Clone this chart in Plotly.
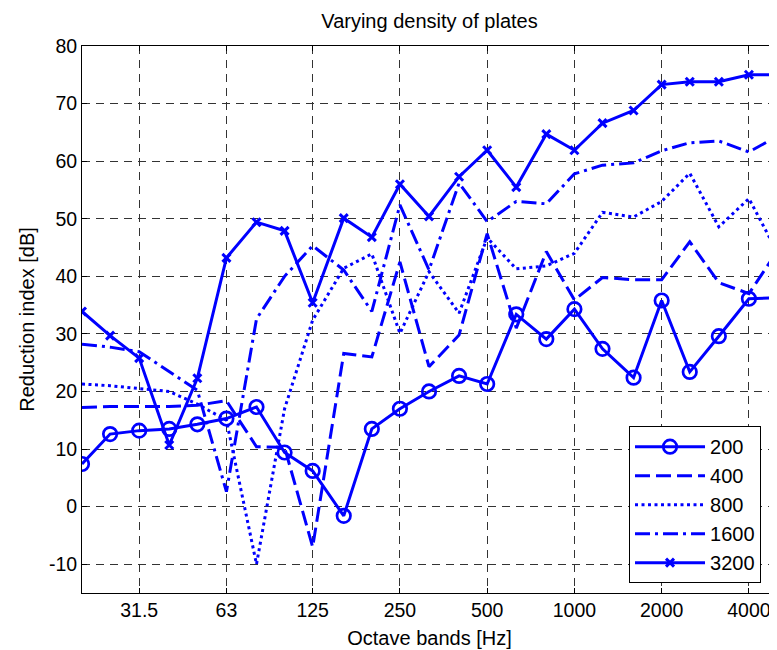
import math
import plotly.graph_objects as go

# Third-octave band centre frequencies [Hz]
freqs = [20, 25, 31.5, 40, 50, 63, 80, 100, 125, 160, 200, 250, 315, 400,
         500, 630, 800, 1000, 1250, 1600, 2000, 2500, 3150, 4000, 5000]

tick_freqs = [31.5, 63, 125, 250, 500, 1000, 2000, 4000]
tick_labels = ["31.5", "63", "125", "250", "500", "1000", "2000", "4000"]
y_ticks = [-10, 0, 10, 20, 30, 40, 50, 60, 70, 80]
y_tick_labels = ["-10", "0", "10", "20", "30", "40", "50", "60", "70", "80"]

series_names = ["200", "400", "800", "1600", "3200"]

r200 = [7.4, 12.6, 13.2, 13.5, 14.3, 15.3, 17.3, 9.4, 6.2, -1.6, 13.5, 17.0, 20.0,
        22.7, 21.3, 33.4, 29.1, 34.3, 27.4, 22.4, 35.8, 23.4, 29.6, 36.1, 36.3]
r400 = [17.2, 17.4, 17.4, 17.4, 17.6, 18.4, 10.4, 10.3, -7.0, 26.6, 26.0, 42.5, 24.3,
        29.8, 47.4, 31.0, 44.3, 35.9, 39.8, 39.4, 39.4, 46.0, 38.9, 37.0, 44.3]
r800 = [21.3, 21.0, 20.5, 20.0, 17.8, 15.0, -10.0, 17.0, 32.4, 41.4, 43.9, 30.1, 40.8,
        33.6, 46.7, 41.3, 41.8, 44.0, 51.1, 50.3, 53.0, 57.9, 48.6, 53.5, 44.3]
r1600 = [28.2, 27.7, 26.9, 23.5, 20.2, 2.6, 32.6, 40.0, 45.3, 41.1, 33.9, 52.4, 41.1,
         56.2, 49.5, 53.0, 52.6, 57.8, 59.3, 59.7, 61.8, 63.2, 63.5, 61.6, 64.3]
r3200 = [33.9, 29.7, 25.8, 10.7, 22.3, 43.2, 49.4, 47.9, 35.4, 50.1, 46.8, 56.0, 50.4,
         57.3, 61.9, 55.5, 64.7, 61.9, 66.6, 68.8, 73.3, 73.8, 73.8, 75.0, 75.0]

values = [r200, r400, r800, r1600, r3200]

BLUE = "#0000FF"
FONT = "Liberation Sans, Arial, Helvetica, sans-serif"

dashes = ["solid", "15px,6px", "3px,3.5px", "15px,5px,3px,5px", "solid"]
markers = [
    dict(symbol="circle-open", size=13.5, color=BLUE, line=dict(width=2.7, color=BLUE)),
    None, None, None,
    dict(symbol="x-thin-open", size=8, color=BLUE, line=dict(width=3, color=BLUE)),
]

fig = go.Figure()
for name, vals, dash, mk in zip(series_names, values, dashes, markers):
    kw = dict(x=freqs, y=vals, name=name,
              line=dict(color=BLUE, width=3, dash=dash))
    if mk is not None:
        kw["mode"] = "lines+markers"
        kw["marker"] = mk
    else:
        kw["mode"] = "lines"
    fig.add_trace(go.Scatter(**kw))

axis_common = dict(
    automargin=False,
    showgrid=True, gridcolor="#333333", gridwidth=1, griddash="8px,6px",
    showline=True, linecolor="black", linewidth=1, mirror="ticks",
    ticks="inside", ticklen=5, tickcolor="black", tickwidth=1,
    zeroline=False,
    tickfont=dict(family=FONT, size=19.5, color="black"),
)

# the page body adds an 8px offset; the figure is sized to fill the rest
W, H = 769, 642
fig.update_layout(
    width=W, height=H,
    margin=dict(l=74, r=0, t=38, b=57, autoexpand=False),
    paper_bgcolor="white", plot_bgcolor="white",
    font=dict(family=FONT, size=20, color="black"),
    title=dict(text="Varying density of plates", xref="paper", x=0.5, xanchor="center",
               y=1 - 13 / H, yanchor="middle", automargin=False,
               font=dict(family=FONT, size=20, color="black")),
    xaxis=dict(type="log", range=[math.log10(freqs[0]), math.log10(freqs[-1])],
               tickvals=tick_freqs, ticktext=tick_labels,
               title=dict(text="Octave bands [Hz]", standoff=10,
                          font=dict(family=FONT, size=20, color="black")),
               **axis_common),
    yaxis=dict(range=[-15, 80], tickvals=y_ticks, ticktext=y_tick_labels,
               title=dict(text="Reduction index [dB]", standoff=8,
                          font=dict(family=FONT, size=20, color="black")),
               **axis_common),
    legend=dict(x=0.977, y=0.018, xanchor="right", yanchor="bottom",
                bgcolor="white", bordercolor="black", borderwidth=1,
                font=dict(family=FONT, size=20, color="black"),
                itemwidth=70, tracegroupgap=0),
    showlegend=True,
)

fig.write_html("out.html")
